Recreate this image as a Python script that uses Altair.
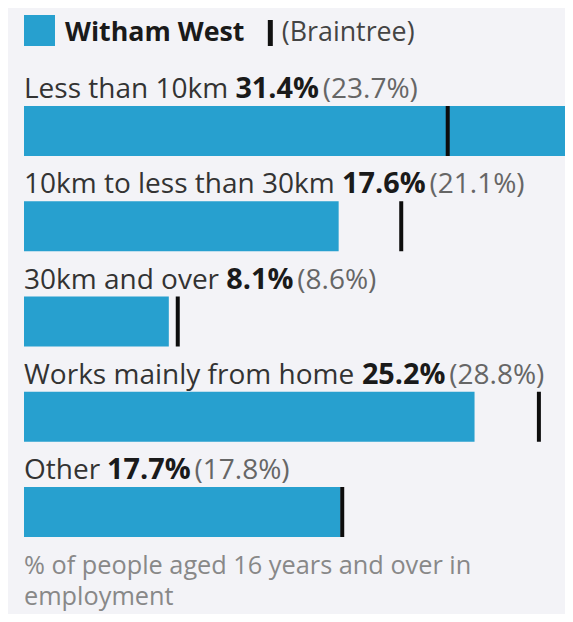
import altair as alt
import pandas as pd

# ---- data ----
categories = ["Less than 10km", "10km to less than 30km", "30km and over",
              "Works mainly from home", "Other"]
area_values = [31.4, 17.6, 8.1, 25.2, 17.7]
comparison_values = [23.7, 21.1, 8.6, 28.8, 17.8]
area_name = "Witham West"
comparison_name = "(Braintree)"
footer_lines = ["% of people aged 16 years and over in", "employment"]

# ---- style ----
FONT = "Open Sans"
FS = 28
FS_VAL = 28.8
FS_LEG = 26.8
FS_FOOT = 25.3
BLUE = "#27a0cf"
BG = "#f3f3f7"

# approximate Open Sans advance widths (em)
REG = {' ': .26, '%': .823, '(': .296, ')': .296, '.': .266,
       'L': .519, 'O': .779, 'W': .932, 'B': .631,
       'a': .556, 'b': .613, 'c': .476, 'd': .613, 'e': .561, 'f': .336, 'g': .541,
       'h': .614, 'i': .254, 'k': .525, 'l': .254, 'm': .93, 'n': .614, 'o': .604,
       'p': .613, 'r': .401, 's': .477, 't': .353, 'u': .614, 'v': .499, 'w': .778,
       'x': .524, 'y': .5}
BOLD = {' ': .26, '%': .89, '(': .34, ')': .34, '.': .29,
        'W': 1.0, 'i': .297, 't': .42, 'h': .667, 'a': .6, 'm': .99, 'e': .596, 's': .497}


def text_width(s, table, size):
    return sum(table.get(ch, .572) for ch in s) * size


rows = []
for cat, v, c in zip(categories, area_values, comparison_values):
    vt = f"{v}%"
    ct = f"({c}%)"
    xv = text_width(cat + " ", REG, FS)
    xc = xv + text_width(vt, BOLD, FS_VAL) + 4
    rows.append(dict(cat=cat, val=v, comp=c, val_txt=vt, comp_txt=ct, x_val=xv, x_comp=xc))
df = pd.DataFrame(rows)

W, H = 541, 606
step, band = 95.25, 50.0
n = len(categories)
p_in = 1 - band / step
used = step * (n - p_in)
p_out = (H - used) / (2 * step)
align = 98 / (H - used)

xscale = alt.Scale(domain=[0, 30.26], nice=False, zero=True)
yscale = alt.Scale(domain=categories, paddingInner=p_in, paddingOuter=p_out, align=align)

base = alt.Chart(df)

bars = base.mark_bar(color=BLUE, clip=True).encode(
    x=alt.X("val:Q", scale=xscale, axis=None),
    y=alt.Y("cat:N", scale=yscale, axis=None),
)
ticks = base.mark_tick(color="#0d0d0d", thickness=4, size=50, opacity=1).encode(
    x=alt.X("comp:Q", scale=xscale, axis=None),
    y=alt.Y("cat:N", scale=yscale, axis=None),
)
ytop = alt.Y("cat:N", scale=yscale, axis=None, bandPosition=0)
lab = base.mark_text(align="left", baseline="alphabetic", dy=-8, font=FONT,
                     fontSize=FS, color="#333333").encode(
    x=alt.value(0), y=ytop, text="cat:N")
valtxt = base.mark_text(align="left", baseline="alphabetic", dy=-8, font=FONT,
                        fontSize=FS_VAL, fontWeight="bold", color="#1a1a1a").encode(
    x=alt.X("x_val:Q", scale=None, axis=None), y=ytop, text="val_txt:N")
comptxt = base.mark_text(align="left", baseline="alphabetic", dy=-8, font=FONT,
                         fontSize=FS, color="#666666").encode(
    x=alt.X("x_comp:Q", scale=None, axis=None), y=ytop, text="comp_txt:N")

# legend
one = alt.Chart(pd.DataFrame({"a": [area_name], "b": [comparison_name]}))
name_x = 41
bar_x = name_x + text_width(area_name, BOLD, FS_LEG) + 22
leg_sq = one.mark_rect(color=BLUE).encode(
    x=alt.value(0), x2=alt.value(31), y=alt.value(7), y2=alt.value(38))
leg_name = one.mark_text(align="left", baseline="alphabetic", font=FONT, fontSize=FS_LEG,
                         fontWeight="bold", color="#1a1a1a").encode(
    x=alt.value(name_x), y=alt.value(33), text="a:N")
leg_bar = one.mark_rect(color="#111111").encode(
    x=alt.value(bar_x), x2=alt.value(bar_x + 5), y=alt.value(12), y2=alt.value(38))
leg_cmp = one.mark_text(align="left", baseline="alphabetic", font=FONT, fontSize=FS_LEG,
                        color="#444444").encode(
    x=alt.value(bar_x + 14), y=alt.value(33), text="b:N")

footer = one.mark_text(align="left", baseline="alphabetic", font=FONT, fontSize=FS_FOOT,
                       color="#888888", lineHeight=31).encode(
    x=alt.value(0), y=alt.value(566), text=alt.value(footer_lines))

chart = alt.layer(bars, ticks, lab, valtxt, comptxt,
                  leg_sq, leg_name, leg_bar, leg_cmp, footer).properties(
    width=W, height=H,
    autosize=alt.AutoSizeParams(type="none"),
    padding={"left": 16, "top": 0, "right": 0, "bottom": 0},
    background=BG,
).configure_view(stroke=None)

chart.save("out.html", embed_options={"renderer": "svg", "actions": False})
